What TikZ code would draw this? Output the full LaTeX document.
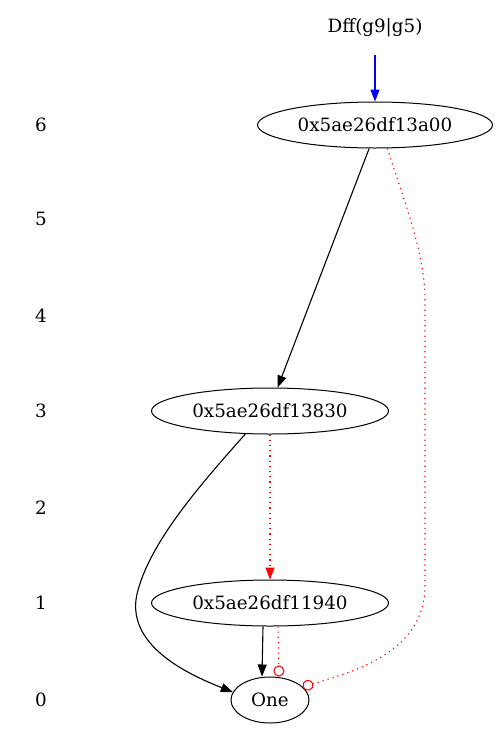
\documentclass[tikz,border=0pt]{standalone}
\usepackage{fontspec}
\setmainfont{DejaVu Serif}
\usetikzlibrary{shapes.geometric,arrows.meta}
\begin{document}
\begin{tikzpicture}[x=1pt,y=-1pt,
  every node/.style={font=\fontsize{18.3}{21}\selectfont},
  bdd/.style={draw,ellipse,line width=1pt,inner sep=0pt,minimum height=46pt},
  lbl/.style={inner sep=0pt},
  edge/.style={line width=1.1pt},
  tip/.style={-{Triangle[length=12pt,width=9pt]}},
  dotline/.style={line width=1.1pt,red,dash pattern=on 1.2pt off 4pt},
  ctip/.style={-{Circle[open,length=11pt,width=11pt,line width=1pt]}}
]
\useasboundingbox (0,0) rectangle (499,731);
\fill[white] (0,0) rectangle (499,731);
% rank labels
\node[lbl] (r6) at (41,125) {6};
\node[lbl] (r5) at (41,219) {5};
\node[lbl] (r4) at (41,316) {4};
\node[lbl] (r3) at (41,411) {3};
\node[lbl] (r2) at (41,508) {2};
\node[lbl] (r1) at (41,603) {1};
\node[lbl] (r0) at (41,700) {0};
% nodes
\node[lbl] (f) at (375,28) {Dff(g9|g5)};
\coordinate (fs) at (375,55);
\node[bdd,minimum width=235pt] (a) at (375,125) {0x5ae26df13a00};
\node[bdd,minimum width=237pt] (b) at (270,411) {0x5ae26df13830};
\node[bdd,minimum width=237pt] (c) at (270,603) {0x5ae26df11940};
\node[bdd,minimum width=78pt] (one) at (270,700) {One};
% edges
\draw[edge,tip,blue] (fs) -- (a);
\draw[edge,tip] (a.-104) -- (b.72);
\draw[dotline,ctip] (a.-62) .. controls (400,190) and (425,250) .. (425,300)
   -- (425,585) .. controls (425,650) and (360,670) .. (one.22);
\draw[edge,tip] (b.-137) .. controls (200,485) and (152,540) .. (138,590)
   .. controls (122,645) and (190,675) .. (one.168);
\draw[dotline,tip] (b.south) -- (c.north);
\draw[edge,tip] ([xshift=-7pt]c.south) -- ([xshift=-8pt]one.north);
\draw[dotline,ctip] ([xshift=8pt]c.south) -- ([xshift=9pt]one.north);
\end{tikzpicture}
\end{document}
